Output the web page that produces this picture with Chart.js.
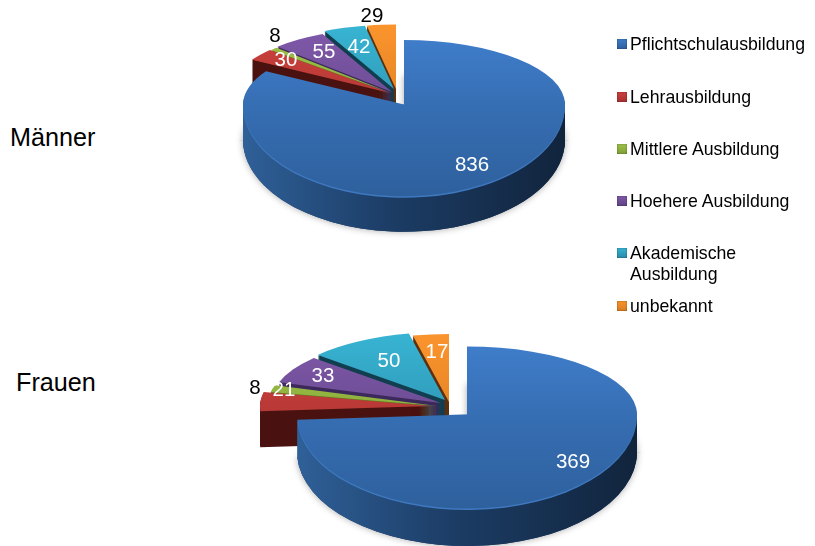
<!DOCTYPE html>
<html>
<head>
<meta charset="utf-8">
<title>Ausbildung</title>
<script src="https://cdn.jsdelivr.net/npm/chart.js@4"></script>
<style>
html, body { margin: 0; padding: 0; background: #fff; }
body { position: relative; width: 815px; height: 546px; overflow: hidden; font-family: "Liberation Sans", Arial, sans-serif; color: #000; }
canvas { position: absolute; }
.side { position: absolute; font-size: 25.2px; line-height: 30px; }
.leg { position: absolute; left: 630px; font-size: 17.7px; line-height: 21px; white-space: nowrap; }
.sw { position: absolute; left: 617px; width: 10px; height: 10px; box-shadow: inset 0 0 2px rgba(0,0,0,.45); }
</style>
</head>
<body>
<canvas id="pie_maenner" width="400" height="400" style="left:204px;top:-94px"></canvas>
<canvas id="pie_frauen" width="460" height="400" style="left:237px;top:216px"></canvas>
<div class="side" style="left:10px;top:122px">Männer</div>
<div class="side" style="left:16px;top:367px">Frauen</div>
<div id="legend"></div>
<script>
var categories = ['Pflichtschulausbildung', 'Lehrausbildung', 'Mittlere Ausbildung', 'Hoehere Ausbildung', 'Akademische Ausbildung', 'unbekannt']
var maenner = [836, 30, 8, 55, 42, 29]
var frauen = [369, 21, 8, 33, 50, 17]

var topLight = ['#3f7dca', '#cb423c', '#9fc348', '#8059aa', '#38b4d3', '#fa942d']
var topDark = ['#2e609d', '#a93131', '#7e9f36', '#5f4383', '#2b8aa8', '#d97b20']
var wallColor = ['#1c3d66', '#4a1210', '#5f7a20', '#3d2a5c', '#123f50', '#5c3210']

// back half of the disc is squeezed more than the front half, gives the perspective look
function pie3d(){
    return {
        id: 'pie3d',
        beforeDatasetsDraw: function(chart, args, opts){
            var ctx = chart.ctx
            var arcs = chart.getDatasetMeta(0).data
            // far slices first, the big blue one goes last and covers the rest
            for (var i = arcs.length - 1; i >= 0; i--) {
                drawSlice(chart, arcs[i], i, opts)
            }
            ctx.textAlign = 'center'
            ctx.textBaseline = 'middle'
            ctx.font = '20.5px "Liberation Sans", Arial, sans-serif'
            arcs.forEach(function(arc, i){
                var p = opts.labels[i]
                ctx.fillStyle = p[2]
                ctx.fillText(String(chart.data.datasets[0].data[i]), arc.x + p[0], arc.y + p[1])
            })
            return false
        }
    }
}

function paint(chart, arc, fill, dx, dy, opts){
    var ctx = chart.ctx
    var saved = arc.options
    arc.options = Object.assign({}, saved, {backgroundColor: fill})
    var lineY = arc.y + dy
    // upper half
    ctx.save()
    ctx.beginPath()
    ctx.rect(-50, -200, chart.width + 100, lineY + 200 + 0.5)
    ctx.clip()
    ctx.translate(arc.x + dx, lineY)
    ctx.scale(1, opts.backY)
    ctx.translate(-arc.x, -arc.y)
    arc.draw(ctx)
    ctx.restore()
    // lower half
    ctx.save()
    ctx.beginPath()
    ctx.rect(-50, lineY, chart.width + 100, 800)
    ctx.clip()
    ctx.translate(arc.x + dx, lineY)
    ctx.scale(1, opts.frontY)
    ctx.translate(-arc.x, -arc.y)
    arc.draw(ctx)
    ctx.restore()
    arc.options = saved
}

function drawSlice(chart, arc, i, opts){
    var ctx = chart.ctx
    var s = opts.shift[i]
    var r = arc.outerRadius
    var wall = wallColor[i]
    if (i == 0) {
        wall = ctx.createLinearGradient(arc.x - r, 0, arc.x + r, 0)
        wall.addColorStop(0, '#2f6098')
        wall.addColorStop(0.45, '#1c3d66')
        wall.addColorStop(1, '#11243c')
    }
    // soft shadow under the disc
    if (i == 0) {
        ctx.save()
        ctx.shadowColor = 'rgba(0,0,0,0.35)'
        ctx.shadowBlur = 7
        paint(chart, arc, '#1c3d66', s[0], s[1] + opts.depth, opts)
        ctx.restore()
    }
    for (var d = opts.depth; d > 0; d--) {
        paint(chart, arc, wall, s[0], s[1] + d, opts)
    }
    var grad = ctx.createLinearGradient(0, arc.y - r, 0, arc.y + r)
    grad.addColorStop(0, topLight[i])
    grad.addColorStop(1, topDark[i])
    if (i == 0) {
        paint(chart, arc, '#3f78bf', s[0], s[1], opts)
        paint(chart, arc, grad, s[0], s[1] - 1.5, opts)
    } else {
        paint(chart, arc, grad, s[0], s[1], opts)
    }
}

function makePie(id, values, radius, pieOpts){
    return new Chart(document.getElementById(id), {
        type: 'pie',
        data: {
            labels: categories,
            datasets: [{
                data: values,
                radius: radius,
                borderWidth: 0,
                backgroundColor: topLight
            }]
        },
        plugins: [pie3d()],
        options: {
            responsive: false,
            animation: false,
            events: [],
            plugins: {
                legend: {display: false},
                tooltip: {enabled: false},
                pie3d: pieOpts
            }
        }
    })
}

makePie('pie_maenner', maenner, 161, {
    backY: 0.40,
    frontY: 0.57,
    depth: 34,
    shift: [[0, 0], [-14, -13], [-13, -13], [-12, -14], [-10, -17], [-8, -17]],
    labels: [[68, 59, '#fff'], [-118, -46, '#fff'], [-129, -70, '#000'], [-80, -54, '#fff'], [-45, -59, '#fff'], [-32, -90, '#000']]
})

makePie('pie_frauen', frauen, 170, {
    backY: 0.40,
    frontY: 0.553,
    depth: 36,
    shift: [[0, 0], [-37, -10], [-30, -10], [-26, -13], [-22, -16], [-18, -14]],
    labels: [[106, 46, '#fff'], [-183, -26, '#fff'], [-212, -28, '#000'], [-144, -40, '#fff'], [-78, -55, '#fff'], [-30, -64, '#fff']]
})

// legend rows
var legendY = [44, 97, 149, 201, 253, 306]
var legendBox = document.getElementById('legend')
categories.forEach(function(name, i){
    var sw = document.createElement('div')
    sw.className = 'sw'
    sw.style.top = (legendY[i] - 5) + 'px'
    sw.style.background = 'linear-gradient(' + topLight[i] + ',' + topDark[i] + ')'
    legendBox.appendChild(sw)
    var row = document.createElement('div')
    row.className = 'leg'
    row.style.top = (legendY[i] - 10) + 'px'
    row.innerHTML = name == 'Akademische Ausbildung' ? 'Akademische<br>Ausbildung' : name
    legendBox.appendChild(row)
})
</script>
</body>
</html>
